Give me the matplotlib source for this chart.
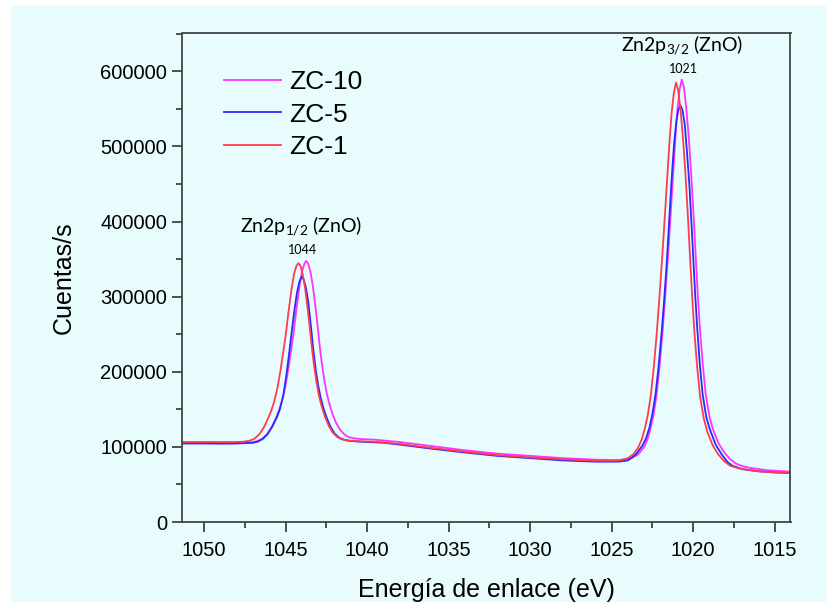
import numpy as np
import matplotlib
matplotlib.use('Agg')
import matplotlib.pyplot as plt
from matplotlib.patches import Rectangle
from matplotlib.ticker import MultipleLocator

plt.rcParams['font.family'] = ['Liberation Sans', 'DejaVu Sans']
plt.rcParams['mathtext.default'] = 'regular'

# XPS Zn 2p spectra (binding energy in eV, counts per second)
# ---

# ZC-10
e_zc10 = [1051.4, 1050.0, 1049.0, 1048.0, 1047.0, 1046.73, 1046.43, 1046.13, 1045.83, 1045.58,
          1045.41, 1045.23, 1045.03, 1044.83, 1044.66, 1044.53, 1044.33, 1044.15, 1044.0, 1043.86,
          1043.74, 1043.62, 1043.48, 1043.33, 1043.18, 1043.03, 1042.92, 1042.78, 1042.63, 1042.48,
          1042.33, 1042.11, 1041.88, 1041.63, 1041.38, 1041.13, 1040.83, 1040.43, 1039.5, 1038.0,
          1036.0, 1034.0, 1032.0, 1030.0, 1028.0, 1026.0, 1025.0, 1024.5, 1023.8, 1023.36,
          1023.0, 1022.8, 1022.6, 1022.43, 1022.25, 1022.07, 1021.88, 1021.71, 1021.54, 1021.38,
          1021.23, 1021.1, 1020.97, 1020.83, 1020.7, 1020.57, 1020.43, 1020.27, 1020.12, 1019.98,
          1019.84, 1019.71, 1019.58, 1019.42, 1019.23, 1019.0, 1018.78, 1018.45, 1018.11, 1017.75,
          1017.39, 1017.0, 1016.5, 1015.5, 1014.0]
cps_zc10 = [106000, 106000, 105800, 106000, 106300, 107800, 111000, 117000, 127000, 139000,
            148000, 160500, 178500, 203500, 228500, 248000, 284000, 313000, 332500, 343000,
            347500, 344500, 334000, 315000, 289000, 260000, 237000, 212000, 190000, 172000,
            158500, 143000, 131000, 122000, 116500, 113000, 111500, 110500, 109500, 106500,
            101000, 95500, 91000, 88000, 85000, 83000, 82500, 82500, 84500, 90300,
            100000, 110000, 125700, 143000, 168000, 205000, 252000, 302000, 355000, 410000,
            462000, 508000, 548000, 576000, 589000, 579000, 553000, 512000, 463000, 410000,
            352000, 300000, 256000, 212000, 170000, 140000, 123000, 105000, 93000, 84000,
            78000, 74500, 72000, 69000, 67000]

# ZC-5
e_zc5 = [1051.4, 1050.0, 1049.0, 1048.0, 1047.0, 1046.7, 1046.4, 1046.1, 1045.8, 1045.54,
         1045.35, 1045.15, 1044.95, 1044.76, 1044.6, 1044.45, 1044.3, 1044.15, 1044.01, 1043.88,
         1043.74, 1043.6, 1043.45, 1043.3, 1043.15, 1043.0, 1042.85, 1042.68, 1042.48, 1042.25,
         1042.0, 1041.7, 1041.35, 1041.0, 1040.5, 1039.0, 1038.0, 1036.0, 1034.0, 1032.0,
         1030.0, 1028.0, 1026.0, 1025.0, 1024.5, 1024.0, 1023.5, 1023.1, 1022.88, 1022.68,
         1022.5, 1022.32, 1022.13, 1021.95, 1021.78, 1021.62, 1021.46, 1021.31, 1021.17, 1021.04,
         1020.91, 1020.78, 1020.65, 1020.51, 1020.37, 1020.23, 1020.11, 1019.99, 1019.87, 1019.75,
         1019.6, 1019.42, 1019.2, 1018.97, 1018.62, 1018.25, 1017.9, 1017.6, 1017.0, 1016.0,
         1015.0, 1014.0]
cps_zc5 = [104500, 104500, 104300, 104500, 105500, 107000, 110500, 117000, 127500, 139000,
           150000, 167000, 195000, 228000, 257000, 283000, 305000, 320000, 326700, 322500,
           311000, 292000, 262000, 230000, 203000, 182000, 166000, 152000, 139000, 127000,
           118000, 112000, 109000, 107800, 107000, 105500, 103000, 97500, 92500, 88000,
           85000, 82000, 80300, 80300, 80500, 82000, 90300, 102000, 112000, 125700,
           144000, 168000, 205000, 248000, 295000, 345000, 405000, 460000, 503000, 532000,
           549000, 554700, 548000, 528000, 490000, 448000, 400000, 350000, 300000, 258000,
           212000, 170000, 140000, 123000, 103000, 90000, 80000, 75000, 70500, 67500,
           66000, 65000]

# ZC-1
e_zc1 = [1051.4, 1050.0, 1049.0, 1048.0, 1047.6, 1047.2, 1046.9, 1046.6, 1046.3, 1046.05,
         1045.88, 1045.7, 1045.5, 1045.3, 1045.13, 1045.0, 1044.8, 1044.62, 1044.47, 1044.33,
         1044.21, 1044.09, 1043.95, 1043.8, 1043.65, 1043.5, 1043.39, 1043.25, 1043.1, 1042.95,
         1042.8, 1042.58, 1042.35, 1042.1, 1041.85, 1041.6, 1041.3, 1040.9, 1040.0, 1039.0,
         1038.0, 1036.0, 1034.0, 1032.0, 1030.0, 1028.0, 1026.0, 1025.0, 1024.5, 1024.0,
         1023.66, 1023.4, 1023.15, 1022.95, 1022.78, 1022.6, 1022.42, 1022.23, 1022.06, 1021.89,
         1021.73, 1021.58, 1021.45, 1021.32, 1021.18, 1021.05, 1020.92, 1020.78, 1020.62, 1020.47,
         1020.33, 1020.19, 1020.06, 1019.93, 1019.77, 1019.58, 1019.35, 1019.13, 1018.8, 1018.46,
         1018.1, 1017.74, 1017.3, 1017.0, 1016.0, 1015.0, 1014.0]
cps_zc1 = [106500, 106500, 106300, 106500, 106800, 108300, 111000, 117000, 127000, 139000,
           148000, 160000, 178000, 203000, 228000, 247000, 283000, 312000, 331000, 341000,
           344500, 341500, 330000, 311000, 285000, 256000, 233000, 208000, 186000, 168000,
           155000, 140000, 128000, 119000, 113500, 110500, 109000, 108000, 107200, 106000,
           104000, 98500, 93500, 89000, 86000, 83500, 81500, 81500, 82000, 85000,
           90300, 98000, 110000, 125700, 143000, 168000, 205000, 252000, 302000, 355000,
           410000, 462000, 507000, 545000, 572000, 585000, 575000, 550000, 510000, 462000,
           410000, 352000, 300000, 255000, 210000, 168000, 138000, 120000, 102000, 90000,
           81000, 75000, 72000, 70500, 67500, 66000, 65000]

series = [('ZC-10', e_zc10, cps_zc10, '#ff33ff'),
          ('ZC-5', e_zc5, cps_zc5, '#2a2aff'),
          ('ZC-1', e_zc1, cps_zc1, '#ff3b4e')]

# peak labels
peak_names = [r'Zn2p$_{1/2}$ (ZnO)', r'Zn2p$_{3/2}$ (ZnO)']
peak_pos = [1044, 1021]
peak_name_xy = [(1044.04, 385000), (1020.68, 627000)]
peak_pos_xy = [(1043.98, 362000), (1020.62, 603000)]

bg = '#e8fcfd'

# figure
# ---
W, H = 828, 602
fig = plt.figure(figsize=(W / 100, H / 100), dpi=100)
fig.patch.set_facecolor('white')
fig.add_artist(Rectangle((11 / W, 0), (825 - 11) / W, (H - 6) / H,
                         transform=fig.transFigure, color=bg, zorder=-10))

ax = fig.add_axes([182.5 / W, 1 - 522 / H, (790.5 - 182.5) / W, (522 - 33) / H])
ax.set_facecolor(bg)

for label, e, cps, colour in series:
    ax.plot(e, cps, color=colour, lw=1.3, label=label)

ax.set_xlim(1051.32, 1014.03)
ax.set_ylim(0, 651000)

ax.xaxis.set_major_locator(MultipleLocator(5))
ax.xaxis.set_minor_locator(MultipleLocator(2.5))
ax.yaxis.set_major_locator(MultipleLocator(100000))
ax.yaxis.set_minor_locator(MultipleLocator(50000))

ax.tick_params(which='both', direction='out', top=False, right=False,
               color='#333333', width=1.2)
ax.tick_params(which='major', length=7.5, labelsize=14.5)
ax.tick_params(which='minor', length=4)
ax.tick_params(axis='x', which='major', pad=6.5)
ax.tick_params(axis='y', which='major', pad=3.5)

for side in ['left', 'bottom', 'top', 'right']:
    ax.spines[side].set_color('#444444')
    ax.spines[side].set_linewidth(1.3)

ax.set_xlabel('Energía de enlace (eV)', fontsize=18, labelpad=13)
ax.set_ylabel('Cuentas/s', fontsize=18, labelpad=18)

leg = ax.legend(loc='upper left', bbox_to_anchor=(224 / W, 1 - 70 / H),
                bbox_transform=fig.transFigure, frameon=False, fontsize=19,
                borderpad=0, borderaxespad=0, handlelength=2.15,
                handletextpad=0.3, labelspacing=0.33)

for name, pos, (xn, yn), (xp, yp) in zip(peak_names, peak_pos, peak_name_xy, peak_pos_xy):
    ax.text(xn, yn, name, family=['Lato', 'DejaVu Sans'], fontsize=14,
            ha='center', va='baseline', color='black')
    ax.text(xp, yp, str(pos), family=['Lato', 'DejaVu Sans'], fontsize=9,
            ha='center', va='center', color='black')

fig.savefig('out.png', dpi=100, facecolor=fig.get_facecolor())
